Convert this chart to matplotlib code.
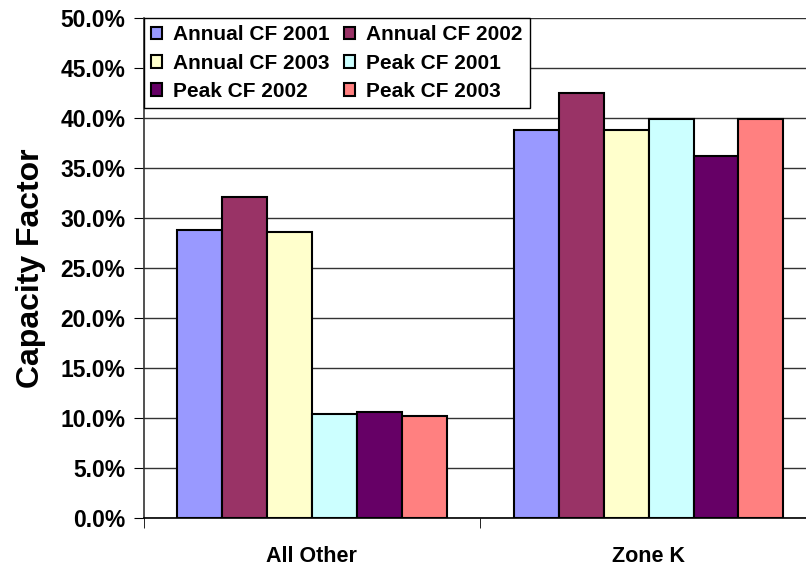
import matplotlib.pyplot as plt
import numpy as np
from matplotlib.ticker import PercentFormatter

plt.rcParams['font.family'] = ['Liberation Sans', 'DejaVu Sans']
plt.rcParams['font.weight'] = 'bold'

categories = ['All Other', 'Zone K']
series = ['Annual CF 2001', 'Annual CF 2002', 'Annual CF 2003',
          'Peak CF 2001', 'Peak CF 2002', 'Peak CF 2003']
colors = ['#9999FF', '#993366', '#FFFFCC', '#CCFFFF', '#660066', '#FF8080']

annual_2001 = [28.8, 38.8]
annual_2002 = [32.1, 42.5]
annual_2003 = [28.6, 38.8]
peak_2001 = [10.4, 39.9]
peak_2002 = [10.6, 36.2]
peak_2003 = [10.2, 39.9]
values = [annual_2001, annual_2002, annual_2003, peak_2001, peak_2002, peak_2003]

fig = plt.figure(figsize=(8.06, 5.69), dpi=100)
ax = fig.add_axes([143.5 / 806, 51 / 569, 673.5 / 806, 500 / 569])

x = np.arange(len(categories))
width = 0.8 / len(series)
bars = []
for i, (name, vals) in enumerate(zip(series, values)):
    b = ax.bar(x - 0.4 + width * (i + 0.5), vals, width, color=colors[i],
               edgecolor='black', linewidth=1.5, label=name, zorder=3)
    bars.append(b)

ax.set_xlim(-0.5, 1.5)
ax.set_ylim(0, 50)
ax.set_yticks(np.arange(0, 50.1, 5))
ax.yaxis.set_major_formatter(PercentFormatter(decimals=1))
ax.grid(axis='y', color='#333333', linewidth=1, zorder=0)
ax.set_axisbelow(True)

ax.set_xticks(x)
ax.set_xticklabels(categories, fontsize=15.5, fontweight='bold')
ax.set_xticks([-0.5, 0.5, 1.5], minor=True)
ax.tick_params(axis='x', which='major', length=0, pad=20)
ax.tick_params(axis='x', which='minor', length=7, direction='out', color='black')
ax.tick_params(axis='y', labelsize=16.5, length=7, direction='out', pad=6)
for lbl in ax.get_yticklabels():
    lbl.set_fontweight('bold')

for s in ['top', 'right']:
    ax.spines[s].set_visible(False)
ax.spines['left'].set_color('#333333')
ax.spines['bottom'].set_color('black')
ax.spines['left'].set_linewidth(1.2)
ax.spines['bottom'].set_linewidth(1.2)

ax.set_ylabel('Capacity Factor', fontsize=23, fontweight='bold', labelpad=10)

# Excel legend order is row-wise; matplotlib fills columns first
order = [0, 2, 4, 1, 3, 5]
leg = ax.legend([bars[i] for i in order], [series[i] for i in order],
                ncol=2, loc='upper left', bbox_to_anchor=(0.0, 1.0),
                borderaxespad=0, fancybox=False, framealpha=1,
                edgecolor='black', prop={'weight': 'bold', 'size': 15},
                handlelength=0.55, handleheight=0.55, handletextpad=0.5,
                columnspacing=0.7, labelspacing=0.45, borderpad=0.35)
leg.get_frame().set_linewidth(1)
leg.set_zorder(5)

fig.savefig('out.png', dpi=100)
